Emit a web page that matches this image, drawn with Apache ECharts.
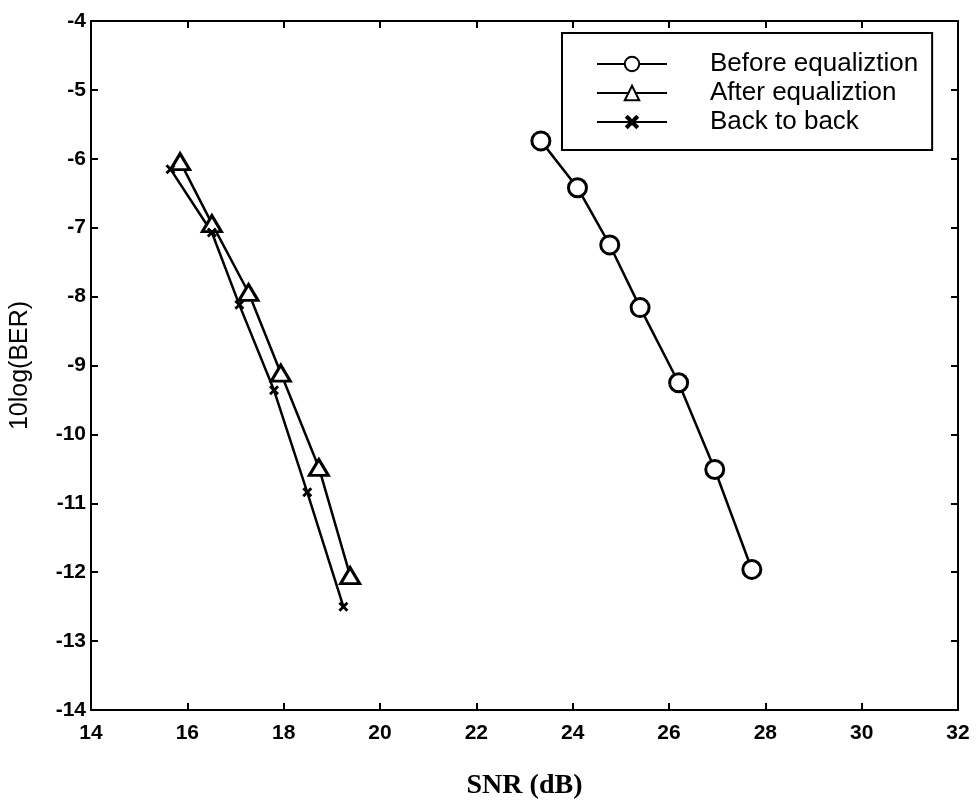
<!DOCTYPE html>
<html>
<head>
<meta charset="utf-8">
<script src="https://cdn.jsdelivr.net/npm/echarts@6/dist/echarts.min.js"></script>
<style>
html,body{margin:0;padding:0;background:#fff;}
#chart{width:980px;height:805px;}
</style>
</head>
<body>
<div id="chart"></div>
<script>
// Data
var seriesNames = ['Before equaliztion', 'After equaliztion', 'Back to back'];
var beforeSNR = [23.34, 24.10, 24.77, 25.40, 26.20, 26.95, 27.72];
var beforeBER = [-5.74, -6.42, -7.25, -8.16, -9.25, -10.51, -11.96];
var afterSNR  = [15.85, 16.51, 17.27, 17.94, 18.73, 19.38];
var afterBER  = [-6.04, -6.94, -7.94, -9.11, -10.48, -12.05];
var b2bSNR    = [15.65, 16.51, 17.08, 17.80, 18.49, 19.24];
var b2bBER    = [-6.15, -7.07, -8.12, -9.36, -10.84, -12.50];
var xTicks = [14, 16, 18, 20, 22, 24, 26, 28, 30, 32];
var yTicks = [-14, -13, -12, -11, -10, -9, -8, -7, -6, -5, -4];

function pairs(xs, ys) { return xs.map(function (x, i) { return [x, ys[i]]; }); }

var crossPath = 'path://M2,0L5,3L8,0L10,2L7,5L10,8L8,10L5,7L2,10L0,8L3,5L0,2Z';
var labelFont = '"Liberation Sans", Arial, sans-serif';

var chart = echarts.init(document.getElementById('chart'), null, {renderer: 'canvas'});
var axisLineStyle = {color: '#000', width: 2};
var option = {
  backgroundColor: '#fff',
  animation: false,
  grid: {left: 91, right: 22, top: 21, bottom: 91, containLabel: false},
  legend: {
    orient: 'vertical',
    left: 562, top: 33,
    padding: [18, 14, 15, 34],
    itemWidth: 70, itemHeight: 18, itemGap: 3,
    borderColor: '#000', borderWidth: 2,
    backgroundColor: '#fff',
    textStyle: {fontFamily: labelFont, fontSize: 26, color: '#000', padding: [0, 0, 0, 38]},
    data: seriesNames
  },
  xAxis: [{
    type: 'value', min: xTicks[0], max: xTicks[xTicks.length - 1], interval: 2,
    name: 'SNR (dB)', nameLocation: 'middle', nameGap: 62,
    nameTextStyle: {fontFamily: '"Liberation Serif", "Times New Roman", serif', fontSize: 28, color: '#000', fontWeight: 'bold'},
    axisLine: {show: true, lineStyle: axisLineStyle},
    axisTick: {show: true, inside: true, length: 7, lineStyle: {color: '#000', width: 2}},
    axisLabel: {fontFamily: labelFont, fontSize: 21, fontWeight: 'bold', color: '#000', margin: 13},
    splitLine: {show: false}
  }, {
    type: 'value', position: 'top', min: xTicks[0], max: xTicks[xTicks.length - 1], interval: 2,
    axisLine: {show: true, lineStyle: axisLineStyle},
    axisTick: {show: true, inside: true, length: 7, lineStyle: {color: '#000', width: 2}},
    axisLabel: {show: false}, splitLine: {show: false}
  }],
  yAxis: [{
    type: 'value', min: yTicks[0], max: yTicks[yTicks.length - 1], interval: 1,
    name: '10log(BER)', nameLocation: 'middle', nameGap: 58, nameRotate: 90,
    nameTextStyle: {fontFamily: labelFont, fontSize: 25, color: '#000'},
    axisLine: {show: true, lineStyle: axisLineStyle},
    axisTick: {show: true, inside: true, length: 7, lineStyle: {color: '#000', width: 2}},
    axisLabel: {fontFamily: labelFont, fontSize: 21, fontWeight: 'bold', color: '#000', margin: 5,
      formatter: function (v) { return String(v); }},
    splitLine: {show: false}
  }, {
    type: 'value', position: 'right', min: yTicks[0], max: yTicks[yTicks.length - 1], interval: 1,
    axisLine: {show: true, lineStyle: axisLineStyle},
    axisTick: {show: true, inside: true, length: 7, lineStyle: {color: '#000', width: 2}},
    axisLabel: {show: false}, splitLine: {show: false}
  }],
  series: [{
    name: seriesNames[0], type: 'line', data: pairs(beforeSNR, beforeBER),
    symbol: 'circle', symbolSize: 18, showAllSymbol: true,
    lineStyle: {color: '#000', width: 2.5},
    itemStyle: {color: '#fff', borderColor: '#000', borderWidth: 3}
  }, {
    name: seriesNames[1], type: 'line', data: pairs(afterSNR, afterBER),
    symbol: 'triangle', symbolSize: [19, 16], showAllSymbol: true,
    lineStyle: {color: '#000', width: 2.5},
    itemStyle: {color: '#fff', borderColor: '#000', borderWidth: 3}
  }, {
    name: seriesNames[2], type: 'line', data: pairs(b2bSNR, b2bBER),
    symbol: crossPath, symbolSize: 10, showAllSymbol: true,
    lineStyle: {color: '#000', width: 2.5},
    itemStyle: {color: '#000', borderColor: '#000', borderWidth: 0}
  }]
};
chart.setOption(option);
</script>
</body>
</html>
